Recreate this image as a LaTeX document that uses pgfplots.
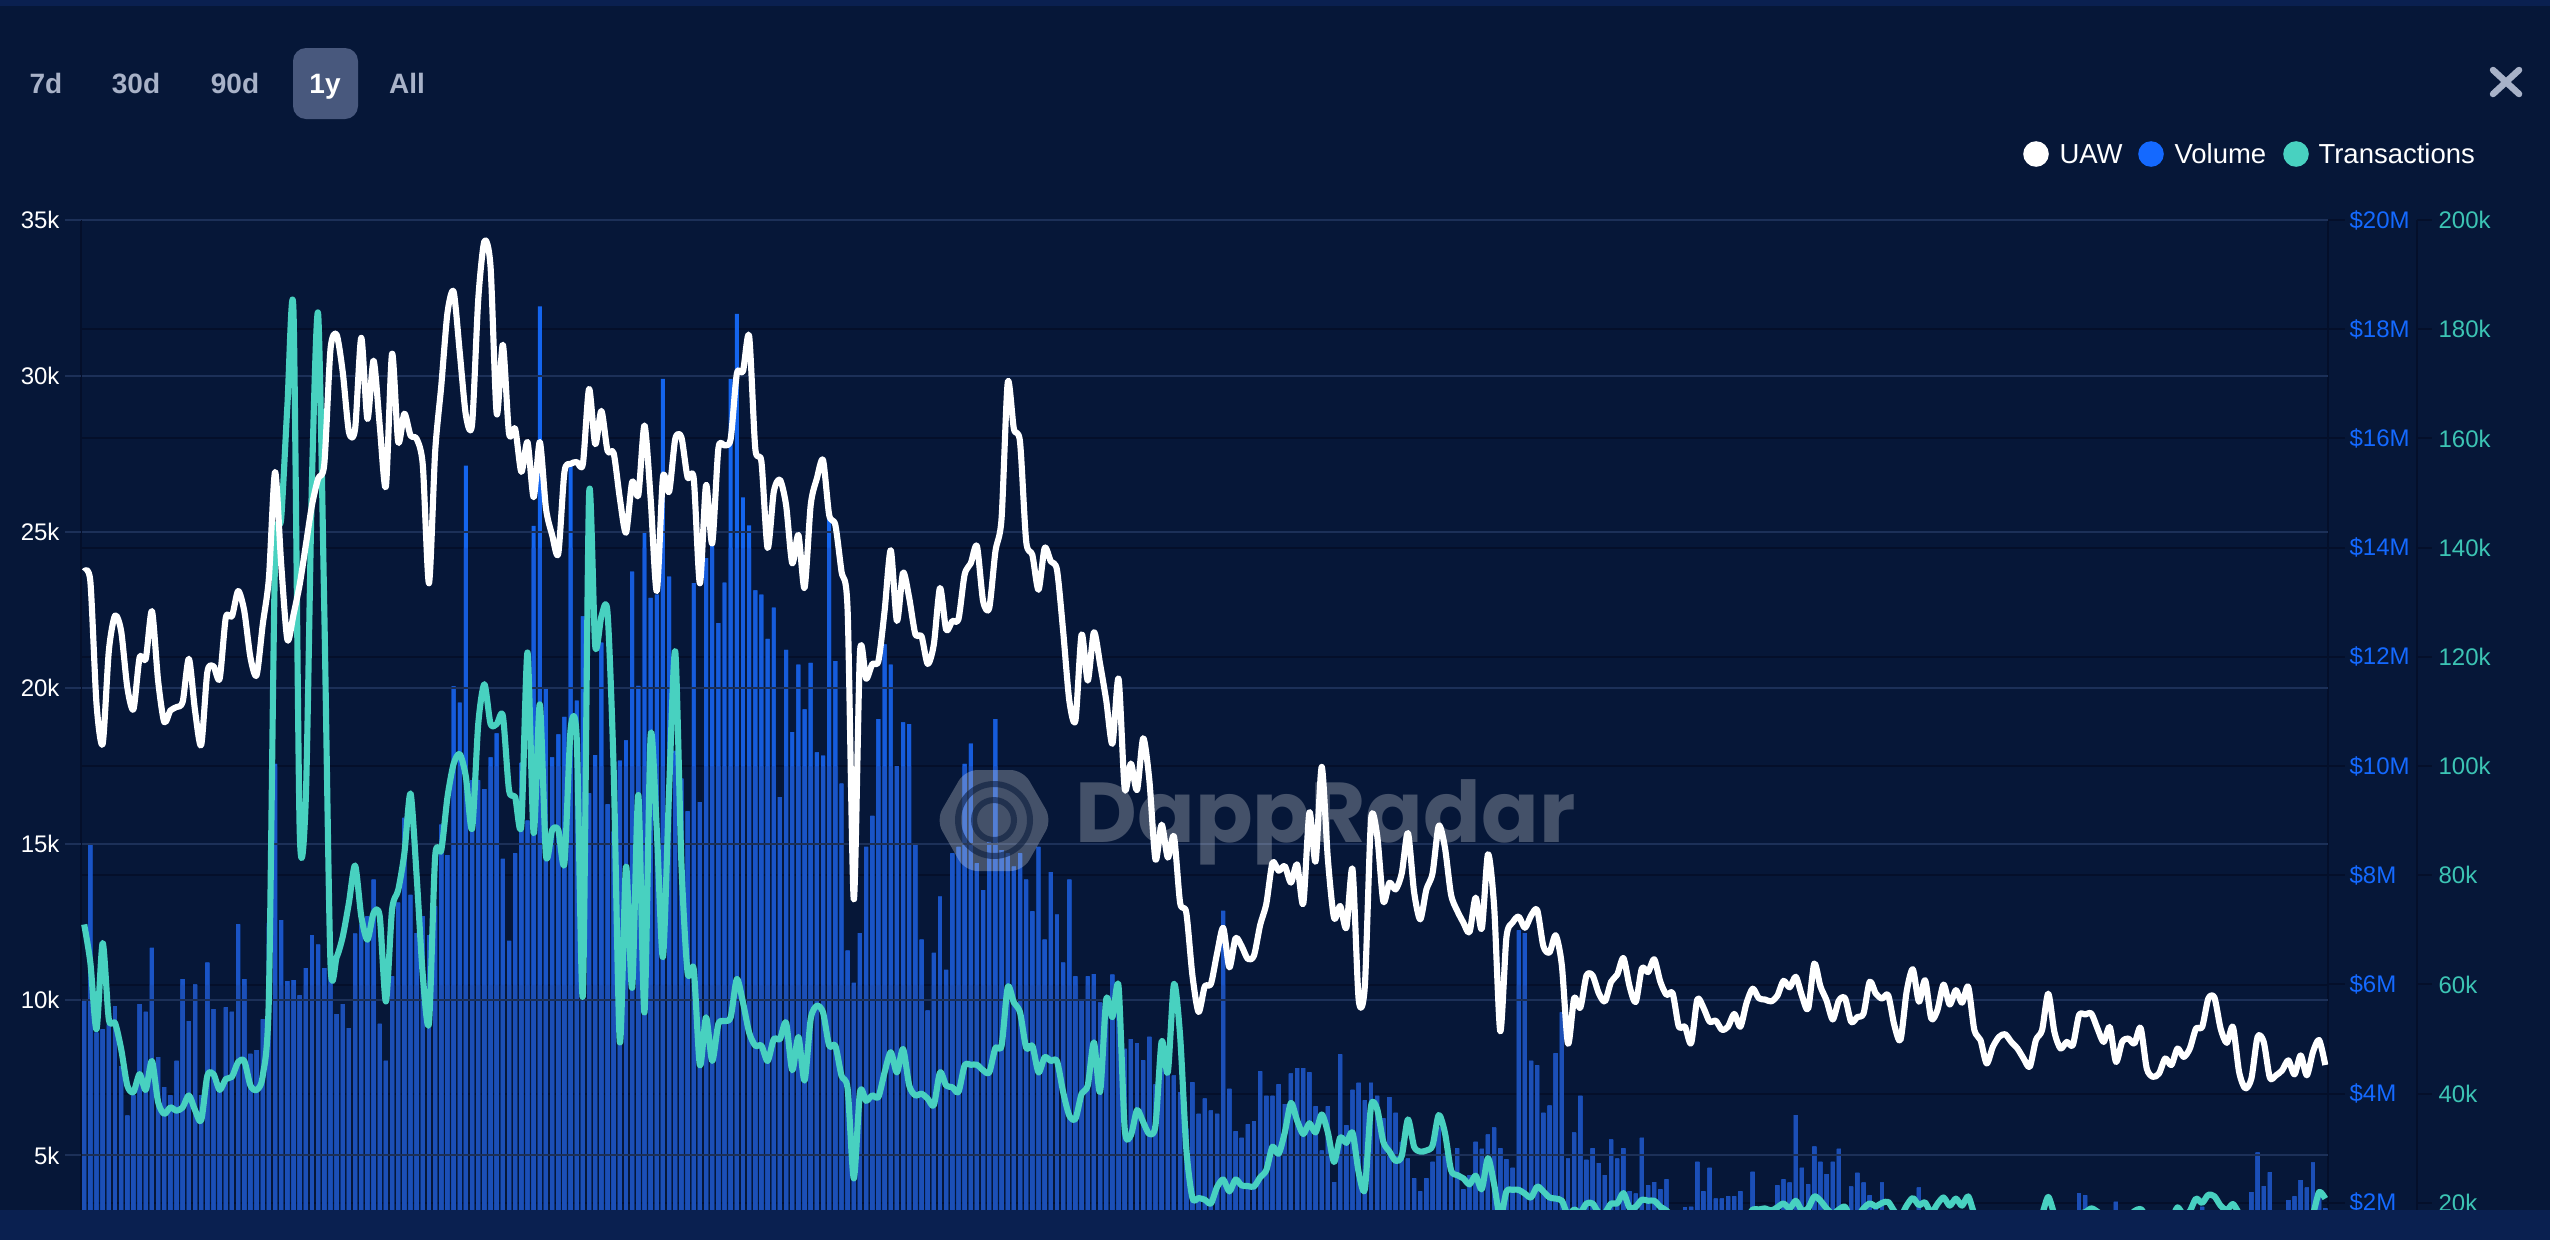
\documentclass[border=0pt]{standalone}
\usepackage{pgfplots}
\usepackage{pgfplotstable}
\usepackage{fontspec}
\pgfplotsset{compat=1.18}
\setmainfont{Liberation Sans}
\newfontfamily\wmfont{Poppins}
\definecolor{bg}{HTML}{061738}
\definecolor{band}{HTML}{0A2050}
\definecolor{darkgrid}{HTML}{040F2A}
\definecolor{lightgrid}{HTML}{1C3058}
\definecolor{barA}{HTML}{1465EE}
\definecolor{barB}{HTML}{165CDC}
\definecolor{barC}{HTML}{1A54C6}
\definecolor{barD}{HTML}{1C4FB6}
\definecolor{volc}{HTML}{1469FF}
\definecolor{teal}{HTML}{48D1C0}
\definecolor{tealtxt}{HTML}{3CC4B4}
\definecolor{btn}{HTML}{A8B2C8}
\definecolor{btnbg}{HTML}{48587D}
\pgfplotstableread[row sep=\\]{
i v\\0 5.7\\1 8.58\\2 5.12\\3 5.18\\4 5.27\\5 5.6\\6 4.5\\7 3.6\\8 3.97\\9 5.64\\10 5.5\\11 6.67\\12 4.67\\13 4.12\\14 3.97\\15 4.6\\16 6.1\\17 5.33\\18 6.0\\19 3.97\\20 6.4\\21 5.55\\22 4.1\\23 5.58\\24 5.5\\25 7.1\\26 6.1\\27 4.73\\28 4.8\\29 5.36\\30 7.13\\31 10.04\\32 7.18\\33 6.06\\34 6.08\\35 5.8\\36 6.3\\37 6.9\\38 6.73\\39 6.3\\40 6.2\\41 5.46\\42 5.64\\43 5.2\\44 6.93\\45 7.1\\46 7.25\\47 7.92\\48 5.28\\49 4.6\\50 6.15\\51 7.5\\52 9.05\\53 7.64\\54 6.94\\55 7.25\\56 6.9\\57 7.43\\58 8.93\\59 8.37\\60 11.46\\61 11.16\\62 15.5\\63 9.74\\64 9.74\\65 9.58\\66 10.16\\67 10.6\\68 8.3\\69 6.8\\70 8.4\\71 10.06\\72 9.0\\73 14.4\\74 18.42\\75 11.42\\76 10.16\\77 10.58\\78 10.9\\79 15.5\\80 11.2\\81 12.74\\82 9.5\\83 10.2\\84 12.26\\85 9.3\\86 8.8\\87 10.1\\88 10.47\\89 13.56\\90 11.47\\91 14.3\\92 13.08\\93 13.14\\94 17.09\\95 13.47\\96 10.28\\97 9.77\\98 9.17\\99 13.35\\100 9.34\\101 13.81\\102 14.17\\103 12.62\\104 13.36\\105 17.09\\106 18.28\\107 14.92\\108 14.41\\109 13.22\\110 13.14\\111 12.33\\112 12.9\\113 9.43\\114 12.13\\115 10.62\\116 11.86\\117 11.04\\118 11.89\\119 10.25\\120 10.19\\121 14.54\\122 11.92\\123 9.68\\124 6.62\\125 6.03\\126 6.94\\127 8.52\\128 9.09\\129 10.86\\130 12.23\\131 11.86\\132 10.0\\133 10.8\\134 10.77\\135 8.56\\136 6.82\\137 5.52\\138 6.58\\139 7.61\\140 6.27\\141 8.4\\142 8.52\\143 10.04\\144 10.41\\145 8.22\\146 7.73\\147 8.61\\148 10.86\\149 8.46\\150 8.4\\151 8.16\\152 8.4\\153 7.92\\154 7.34\\155 8.52\\156 6.82\\157 8.06\\158 7.28\\159 6.4\\160 7.92\\161 6.15\\162 5.7\\163 6.15\\164 6.19\\165 5.67\\166 5.61\\167 6.18\\168 6.03\\169 4.82\\170 5.0\\171 4.92\\172 4.61\\173 5.04\\174 4.17\\175 4.82\\176 4.39\\177 4.33\\178 4.03\\179 3.36\\180 4.21\\181 3.63\\182 3.91\\183 3.69\\184 3.63\\185 7.35\\186 4.09\\187 3.31\\188 3.19\\189 3.44\\190 3.5\\191 4.41\\192 3.96\\193 3.96\\194 4.17\\195 3.81\\196 4.37\\197 4.47\\198 4.47\\199 4.39\\200 3.77\\201 2.96\\202 3.77\\203 2.38\\204 4.72\\205 3.42\\206 4.07\\207 4.2\\208 3.88\\209 4.2\\210 3.96\\211 3.55\\212 3.94\\213 3.65\\214 3.12\\215 2.81\\216 2.45\\217 2.21\\218 2.45\\219 2.75\\220 3.38\\221 2.9\\222 2.56\\223 3.0\\224 2.25\\225 2.51\\226 3.12\\227 2.99\\228 3.25\\229 3.38\\230 3.0\\231 2.8\\232 2.64\\233 6.99\\234 6.94\\235 4.6\\236 4.52\\237 3.65\\238 3.78\\239 4.74\\240 5.49\\241 2.81\\242 3.29\\243 3.96\\244 2.79\\245 3.0\\246 2.73\\247 2.51\\248 3.16\\249 2.81\\250 3.0\\251 2.21\\252 2.17\\253 3.19\\254 2.32\\255 2.38\\256 2.25\\257 2.43\\258 1.7\\259 1.7\\260 1.92\\261 1.93\\262 2.75\\263 2.21\\264 2.64\\265 2.08\\266 2.08\\267 2.12\\268 2.12\\269 2.21\\270 1.7\\271 2.57\\272 1.7\\273 1.7\\274 1.7\\275 2.32\\276 2.43\\277 2.37\\278 3.61\\279 2.64\\280 2.34\\281 3.03\\282 2.75\\283 2.53\\284 2.75\\285 2.99\\286 1.9\\287 2.3\\288 2.55\\289 2.37\\290 2.14\\291 1.9\\292 2.37\\293 1.7\\294 1.7\\295 1.7\\296 1.7\\297 1.7\\298 2.28\\299 1.7\\300 1.7\\301 1.7\\302 1.7\\303 1.7\\304 1.7\\305 1.7\\306 1.7\\307 1.7\\308 1.7\\309 1.7\\310 1.7\\311 1.7\\312 1.7\\313 1.7\\314 1.7\\315 1.7\\316 1.7\\317 1.7\\318 1.7\\319 1.7\\320 1.7\\321 1.7\\322 1.7\\323 1.7\\324 2.18\\325 2.14\\326 1.7\\327 1.7\\328 1.7\\329 1.7\\330 2.02\\331 1.7\\332 1.7\\333 1.7\\334 1.7\\335 1.7\\336 1.7\\337 1.7\\338 1.7\\339 1.7\\340 1.7\\341 1.7\\342 1.7\\343 1.7\\344 1.93\\345 1.7\\346 1.7\\347 1.7\\348 1.7\\349 1.7\\350 1.7\\351 1.7\\352 2.2\\353 2.92\\354 2.31\\355 2.56\\356 1.7\\357 1.7\\358 2.05\\359 2.12\\360 2.42\\361 2.28\\362 2.74\\363 2.2\\364 1.9\\
}\voltable
\pgfplotstableread[row sep=\\]{
i v\\0 23.73\\1 23.41\\2 19.48\\3 18.2\\4 21.18\\5 22.31\\6 21.82\\7 20.01\\8 19.31\\9 20.97\\10 20.93\\11 22.46\\12 20.23\\13 18.9\\14 19.27\\15 19.38\\16 19.55\\17 20.93\\18 19.27\\19 18.16\\20 20.5\\21 20.69\\22 20.29\\23 22.25\\24 22.29\\25 23.1\\26 22.46\\27 20.97\\28 20.4\\29 22.03\\30 23.52\\31 26.92\\32 23.95\\33 21.54\\34 22.35\\35 23.31\\36 24.58\\37 25.86\\38 26.71\\39 27.18\\40 30.85\\41 31.32\\42 30.11\\43 28.2\\44 28.3\\45 31.22\\46 28.62\\47 30.49\\48 28.41\\49 26.45\\50 30.71\\51 27.88\\52 28.79\\53 28.09\\54 27.98\\55 27.13\\56 23.35\\57 27.56\\58 29.69\\59 32.02\\60 32.7\\61 30.75\\62 28.73\\63 28.45\\64 32.45\\65 34.32\\66 33.5\\67 28.79\\68 31.0\\69 28.15\\70 28.3\\71 26.92\\72 27.88\\73 26.11\\74 27.88\\75 25.75\\76 24.9\\77 24.3\\78 26.92\\79 27.18\\80 27.24\\81 27.18\\82 29.58\\83 27.81\\84 28.88\\85 27.6\\86 27.52\\87 26.07\\88 24.97\\89 26.6\\90 26.18\\91 28.41\\92 26.07\\93 23.1\\94 26.75\\95 26.28\\96 27.98\\97 28.03\\98 26.75\\99 26.71\\100 23.35\\101 26.5\\102 24.63\\103 27.67\\104 27.77\\105 27.98\\106 30.07\\107 30.15\\108 31.28\\109 27.67\\110 27.24\\111 24.48\\112 26.28\\113 26.67\\114 25.86\\115 23.99\\116 24.9\\117 23.2\\118 25.86\\119 26.71\\120 27.3\\121 25.54\\122 25.22\\123 23.73\\124 22.46\\125 13.21\\126 21.12\\127 20.29\\128 20.76\\129 20.86\\130 22.46\\131 24.41\\132 22.14\\133 23.69\\134 22.88\\135 21.71\\136 21.65\\137 20.76\\138 21.39\\139 23.2\\140 21.86\\141 22.14\\142 22.2\\143 23.63\\144 23.99\\145 24.54\\146 22.78\\147 22.56\\148 24.37\\149 25.43\\150 29.79\\151 28.3\\152 27.88\\153 24.69\\154 24.26\\155 23.14\\156 24.48\\157 24.05\\158 23.78\\159 21.82\\160 19.59\\161 18.95\\162 21.71\\163 20.23\\164 21.78\\165 20.76\\166 19.59\\167 18.2\\168 20.29\\169 16.76\\170 17.57\\171 16.72\\172 18.38\\173 17.04\\174 14.49\\175 15.61\\176 14.55\\177 15.23\\178 13.1\\179 12.79\\180 10.77\\181 9.6\\182 10.42\\183 10.5\\184 11.48\\185 12.3\\186 11.03\\187 11.97\\188 11.71\\189 11.3\\190 11.41\\191 12.39\\192 13.07\\193 14.39\\194 14.13\\195 14.28\\196 13.75\\197 14.33\\198 13.07\\199 16.0\\200 14.43\\201 17.46\\202 14.5\\203 12.62\\204 13.0\\205 12.3\\206 14.18\\207 10.0\\208 10.42\\209 15.75\\210 15.27\\211 13.15\\212 13.75\\213 13.53\\214 14.05\\215 15.34\\216 13.45\\217 12.57\\218 13.53\\219 14.05\\220 15.57\\221 14.89\\222 13.37\\223 12.85\\224 12.47\\225 12.16\\226 13.27\\227 12.27\\228 14.66\\229 13.0\\230 8.98\\231 12.0\\232 12.47\\233 12.66\\234 12.3\\235 12.69\\236 12.87\\237 11.71\\238 11.51\\239 12.06\\240 11.1\\241 8.58\\242 10.04\\243 9.74\\244 10.77\\245 10.77\\246 10.2\\247 9.94\\248 10.57\\249 10.8\\250 11.33\\251 10.42\\252 9.92\\253 11.0\\254 10.88\\255 11.29\\256 10.57\\257 10.15\\258 10.2\\259 9.13\\260 9.13\\261 8.6\\262 10.0\\263 9.74\\264 9.29\\265 9.32\\266 9.03\\267 9.13\\268 9.54\\269 9.13\\270 9.89\\271 10.35\\272 10.04\\273 10.0\\274 9.94\\275 10.12\\276 10.6\\277 10.39\\278 10.73\\279 10.12\\280 9.7\\281 11.15\\282 10.42\\283 9.97\\284 9.36\\285 9.97\\286 10.04\\287 9.28\\288 9.44\\289 9.55\\290 10.57\\291 10.19\\292 10.03\\293 10.14\\294 9.18\\295 8.7\\296 10.25\\297 10.97\\298 9.93\\299 10.62\\300 9.39\\301 9.66\\302 10.48\\303 9.84\\304 10.3\\305 9.9\\306 10.41\\307 9.02\\308 8.7\\309 7.95\\310 8.48\\311 8.8\\312 8.89\\313 8.64\\314 8.43\\315 8.11\\316 7.84\\317 8.7\\318 9.02\\319 10.19\\320 8.96\\321 8.43\\322 8.64\\323 8.54\\324 9.5\\325 9.52\\326 9.55\\327 9.07\\328 8.64\\329 9.12\\330 8.0\\331 8.64\\332 8.75\\333 8.59\\334 9.09\\335 7.79\\336 7.52\\337 7.63\\338 8.11\\339 7.9\\340 8.43\\341 8.16\\342 8.43\\343 9.07\\344 9.12\\345 10.03\\346 10.06\\347 9.07\\348 8.61\\349 9.12\\350 7.68\\351 7.15\\352 7.47\\353 8.8\\354 8.64\\355 7.49\\356 7.57\\357 7.73\\358 8.05\\359 7.6\\360 8.21\\361 7.57\\362 8.32\\363 8.7\\364 7.9\\
}\uawtable
\pgfplotstableread[row sep=\\]{
i v\\0 71\\1 64\\2 51.8\\3 67.6\\4 53.6\\5 53\\6 48.2\\7 41.5\\8 40.3\\9 43.6\\10 40.7\\11 46\\12 38.5\\13 36.3\\14 37.5\\15 36.9\\16 37.5\\17 39.7\\18 37\\19 35.1\\20 43.3\\21 43.6\\22 40.7\\23 42.7\\24 43.1\\25 45.8\\26 46\\27 41.5\\28 40.7\\29 43.3\\30 57.9\\31 138\\32 145.4\\33 166\\34 183\\35 88.3\\36 94.3\\37 152.6\\38 182.8\\39 128.3\\40 64\\41 65\\42 68.8\\43 75\\44 81.8\\45 72.5\\46 68.2\\47 73.1\\48 72.5\\49 56.9\\50 73.7\\51 77.3\\52 84\\53 95\\54 79.8\\55 61.6\\56 53\\57 83.4\\58 84.6\\59 94.3\\60 100.4\\61 102.2\\62 98\\63 88.5\\64 107.7\\65 115\\66 107.7\\67 107.7\\68 109.2\\69 95.6\\70 94.3\\71 89.2\\72 120.8\\73 87.7\\74 111.3\\75 83.7\\76 88.3\\77 88.3\\78 82.2\\79 106.7\\80 105\\81 58.2\\82 149.6\\83 122\\84 127.4\\85 128.1\\86 99.2\\87 49.4\\88 81.6\\89 59.4\\90 94.7\\91 54.9\\92 105.5\\93 88.3\\94 65\\95 95.6\\96 121\\97 82.2\\98 62.2\\99 62.8\\100 45.2\\101 54\\102 46\\103 52.8\\104 53.3\\105 54\\106 61\\107 56.7\\108 51.2\\109 48.8\\110 48.8\\111 46\\112 50\\113 50\\114 53\\115 44.3\\116 50.4\\117 42.4\\118 53.7\\119 56.1\\120 54.9\\121 48.8\\122 48.8\\123 43.3\\124 40.9\\125 24.5\\126 40.3\\127 38.7\\128 39.7\\129 39.4\\130 43.9\\131 47.6\\132 43.9\\133 48.2\\134 41.5\\135 39.7\\136 40\\137 39.1\\138 37.9\\139 43.9\\140 41.5\\141 41.2\\142 40.3\\143 45.2\\144 45.3\\145 45.3\\146 44.3\\147 43.9\\148 48.4\\149 48.8\\150 59.5\\151 56.7\\152 54.9\\153 48.4\\154 48.8\\155 43.9\\156 46.7\\157 46\\158 46\\159 40.3\\160 36\\161 35.4\\162 40\\163 41.5\\164 49.4\\165 40.3\\166 57.3\\167 54\\168 59.7\\169 33.6\\170 32.4\\171 37\\172 34.8\\173 32.6\\174 34.2\\175 49.6\\176 43.9\\177 60.1\\178 50.6\\179 30\\180 20.9\\181 20.9\\182 20.6\\183 19.9\\184 22.9\\185 24.3\\186 22.1\\187 24.3\\188 23.2\\189 23.1\\190 23\\191 24.7\\192 26\\193 30.3\\194 29\\195 32.9\\196 38.3\\197 35.1\\198 32.6\\199 34.6\\200 32.9\\201 36.2\\202 32.9\\203 27.5\\204 32\\205 31\\206 32.9\\207 25.6\\208 22.5\\209 37.7\\210 37.2\\211 31.2\\212 29.4\\213 27.7\\214 28.6\\215 35.3\\216 30.3\\217 29.4\\218 29.6\\219 30.5\\220 36.1\\221 32.9\\222 26\\223 25.1\\224 24.5\\225 23.4\\226 25\\227 22.5\\228 28.2\\229 23.4\\230 17.3\\231 22.1\\232 22.4\\233 22.4\\234 21.7\\235 21\\236 23\\237 22.1\\238 21\\239 20.8\\240 20.4\\241 17.8\\242 18.8\\243 18.2\\244 19.9\\245 19.9\\246 18.2\\247 18.2\\248 19.9\\249 19.9\\250 21.8\\251 19.1\\252 19.3\\253 20.6\\254 20.4\\255 20.4\\256 19.3\\257 18.6\\258 17.3\\259 17\\260 17\\261 17\\262 17\\263 17\\264 17\\265 17\\266 17\\267 17\\268 17\\269 17\\270 17\\271 18.8\\272 18.8\\273 19\\274 18.6\\275 19.2\\276 19.9\\277 19\\278 20.4\\279 18.6\\280 19\\281 21.2\\282 20.4\\283 19\\284 18\\285 18.8\\286 19.3\\287 17\\288 17.5\\289 19\\290 19.9\\291 19.4\\292 20\\293 20.2\\294 18.5\\295 17.5\\296 19.5\\297 20.9\\298 19.6\\299 20.1\\300 18.2\\301 19.8\\302 21\\303 19.5\\304 20.8\\305 19.5\\306 21.2\\307 18\\308 17\\309 17\\310 17\\311 17\\312 17\\313 17\\314 17\\315 17\\316 17\\317 17\\318 18\\319 21.1\\320 18\\321 17\\322 17\\323 17\\324 18\\325 18.3\\326 19\\327 18.4\\328 17.5\\329 17.5\\330 17.5\\331 17.5\\332 17.5\\333 18.5\\334 18.9\\335 17.5\\336 17\\337 17\\338 17\\339 17\\340 19.2\\341 17.8\\342 18.5\\343 20.8\\344 20\\345 21.5\\346 21.2\\347 19.5\\348 18.7\\349 19.8\\350 18.1\\351 17\\352 17\\353 17\\354 17\\355 17\\356 17\\357 17\\358 17\\359 17\\360 17\\361 17\\362 18\\363 22\\364 20.8\\
}\txtable
\pgfplotsset{base/.style={
  scale only axis, width=898.8pt, height=396pt,
  at={(32.4pt,-484pt)}, anchor=south west,
  xmin=-0.52, xmax=364.45, hide x axis,
  tick style={draw=none},
  ticklabel style={font=\fontsize{9.6}{11}\selectfont},
}}
\begin{document}
\begin{tikzpicture}[x=0.4pt,y=-0.4pt]
\useasboundingbox (0,0) rectangle (2550,1240);
\fill[bg] (0,0) rectangle (2550,1240);
% Volume: dark grid and bars
\begin{axis}[base, ymin=1.87, ymax=20,
  axis y line*=right, axis line style={draw=darkgrid, line width=0.5pt},
  ytick={2,4,...,20},
  yticklabels={\$2M,\$4M,\$6M,\$8M,\$10M,\$12M,\$14M,\$16M,\$18M,\$20M},
  yticklabel style={text=volc, anchor=west, xshift=8.4pt, inner sep=0pt},
  ymajorgrids, grid style={draw=darkgrid, line width=0.8pt},
  ]
\addplot[ybar, bar width=1.58pt, bar shift=0pt, fill=barA, draw=none] table[x=i,y=v] {\voltable};
\addplot[ybar, bar width=1.58pt, bar shift=0pt, fill=barB, draw=none, y filter/.expression={y>14?14:y}] table[x=i,y=v] {\voltable};
\addplot[ybar, bar width=1.58pt, bar shift=0pt, fill=barC, draw=none, y filter/.expression={y>10?10:y}] table[x=i,y=v] {\voltable};
\addplot[ybar, bar width=1.58pt, bar shift=0pt, fill=barD, draw=none, y filter/.expression={y>6?6:y}] table[x=i,y=v] {\voltable};
\end{axis}
% UAW scale: light grid and left labels
\begin{axis}[base, ymin=3.249, ymax=35,
  axis y line*=left, axis line style={draw=darkgrid, line width=0.5pt},
  ytick={5,10,...,35},
  yticklabels={5k,10k,15k,20k,25k,30k,35k},
  yticklabel style={text=white, anchor=east, xshift=-6.4pt, inner sep=2pt},
  ymajorgrids, grid style={draw=lightgrid, line width=0.8pt},
  ]
\end{axis}
% watermark
\fill[white, opacity=.25, rounded corners=5pt] (936,820) -- (965,770) -- (1023,770) -- (1052,820) -- (1023,871) -- (965,871) -- cycle;
\draw[bg, opacity=.55, line width=2.4pt] (994,820) circle [radius=36];
\draw[bg, opacity=.55, line width=2.4pt] (994,820) circle [radius=20];
\node[text=white, text opacity=.25, anchor=west, inner sep=0pt, font=\wmfont\bfseries\fontsize{34}{40}\selectfont] at (1075,822) {DappRadar};
% Transactions
\begin{axis}[base, ymin=18.7, ymax=200,
  axis y line*=right, axis line style={draw=none},
  ytick={20,40,...,200},
  yticklabels={20k,40k,60k,80k,100k,120k,140k,160k,180k,200k},
  yticklabel style={text=tealtxt, anchor=west, xshift=44pt, inner sep=0pt},
  ]
\addplot[teal, line width=2.45pt, smooth, tension=0.45, line join=round] table[x=i,y=v] {\txtable};
\end{axis}
% UAW
\begin{axis}[base, ymin=3.249, ymax=35, hide y axis]
\addplot[white, line width=2.45pt, smooth, tension=0.45, line join=round] table[x=i,y=v] {\uawtable};
\end{axis}
% ticks and right rule
\draw[darkgrid, line width=0.5pt] (2417,220) -- (2417,1210);
\foreach \yy in {220,329.2,438.4,547.6,656.8,766,875.2,984.4,1093.6,1202.8} {
  \draw[darkgrid, line width=0.8pt] (2417,\yy) -- (2432,\yy);
  \draw[darkgrid, line width=0.8pt] (2328,\yy) -- (2345,\yy);
}
\foreach \yy in {220,375.9,531.8,687.7,843.6,999.5,1155.4} {
  \draw[lightgrid, line width=0.8pt] (65,\yy) -- (81,\yy);
}
% bands
\fill[band] (0,1210) rectangle (2550,1240);
\fill[band] (0,0) rectangle (2550,6);
% range buttons
\fill[btnbg, rounded corners=5.2pt] (293,48) rectangle (358,119);
\begin{scope}[every node/.style={inner sep=0pt, anchor=base, font=\bfseries\fontsize{11.2}{13}\selectfont}]
\node[text=btn] at (46,93) {7d};
\node[text=btn] at (136,93) {30d};
\node[text=btn] at (235,93) {90d};
\node[text=white] at (325,93) {1y};
\node[text=btn] at (407,93) {All};
\end{scope}
% close
\draw[btn, line width=2.6pt, line cap=round] (2493,70) -- (2519,94) (2519,70) -- (2493,94);
% legend
\fill[white] (2036,154) circle [radius=12.8];
\fill[volc] (2151,154) circle [radius=12.8];
\fill[teal] (2296,154) circle [radius=12.8];
\begin{scope}[every node/.style={inner sep=0pt, anchor=base west, text=white, font=\fontsize{11}{13}\selectfont}]
\node at (2059,163) {UAW};
\node at (2174,163) {Volume};
\node at (2318,163) {Transactions};
\end{scope}
\end{tikzpicture}
\end{document}
